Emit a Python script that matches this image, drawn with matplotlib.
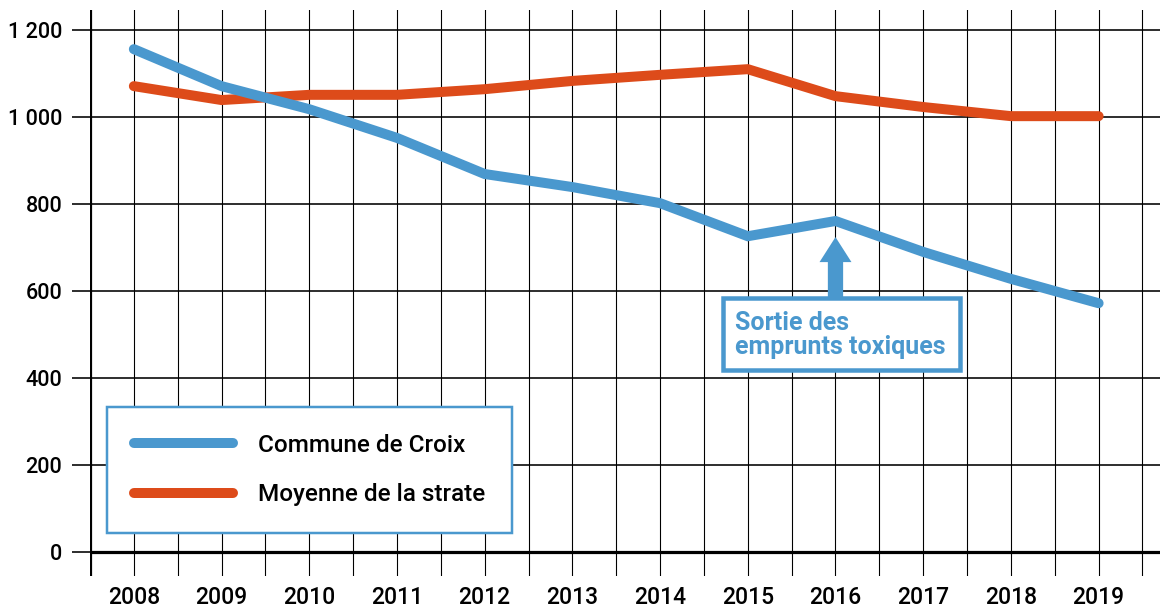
import matplotlib
matplotlib.use("Agg")
import matplotlib.pyplot as plt
from matplotlib.patches import Rectangle, FancyArrowPatch

plt.rcParams['font.family'] = ['Roboto', 'DejaVu Sans']

years = [2008, 2009, 2010, 2011, 2012, 2013, 2014, 2015, 2016, 2017, 2018, 2019]
croix = [1156, 1071, 1018, 952, 869, 839, 802, 726, 761, 690, 628, 572]
strate = [1071, 1039, 1051, 1051, 1064, 1083, 1097, 1110, 1048, 1023, 1002, 1002]
yticks = [0, 200, 400, 600, 800, 1000, 1200]
ytick_labels = ["0", "200", "400", "600", "800", "1 000", "1 200"]
series_names = ["Commune de Croix", "Moyenne de la strate"]
annot_text = "Sortie des\nemprunts toxiques"
annot_year = 2016

BLUE = "#4A98CE"
ORANGE = "#DD4B1A"
PX = 0.72  # points per pixel at dpi 100

fig = plt.figure(figsize=(11.73, 6.10), dpi=100)
W, H = 1173, 610
ax = fig.add_axes([90 / W, (H - 576) / H, (1160 - 90) / W, (576 - 10) / H])
ax.set_xlim(2007.5, 2019.7)
ax.set_ylim(-55, 1246)
for s in ax.spines.values():
    s.set_visible(False)

# grid: vertical lines every half year
half = []
v = years[0] - 0.5
while v <= years[-1] + 0.5 + 1e-9:
    half.append(v)
    v += 0.5
for xv in half[1:]:
    ax.axvline(xv, color="black", lw=1.1 * PX, zorder=1)
# horizontal grid
for yv in yticks[1:]:
    ax.axhline(yv, color="black", lw=1.6 * PX, zorder=1)
ax.axhline(0, color="black", lw=3.2 * PX, zorder=2)
ax.axvline(years[0] - 0.5, color="black", lw=3.2 * PX, zorder=2)

ax.set_yticks(yticks)
ax.set_yticklabels(ytick_labels)
ax.set_xticks(years)
ax.set_xticklabels([str(y) for y in years])
ax.tick_params(axis="y", length=18 * PX, width=1.6 * PX, color="black", pad=7, labelsize=15.5)
ax.tick_params(axis="x", length=0, pad=7, labelsize=16.5)
for t in ax.get_xticklabels() + ax.get_yticklabels():
    t.set_fontweight(500)

l1, = ax.plot(years, croix, color=BLUE, lw=10 * PX, solid_capstyle="round",
              solid_joinstyle="miter", zorder=4, label=series_names[0])
l2, = ax.plot(years, strate, color=ORANGE, lw=10 * PX, solid_capstyle="round",
              solid_joinstyle="miter", zorder=3, label=series_names[1])

leg = ax.legend(handles=[l1, l2], loc="lower left",
                bbox_to_anchor=((107 - 90) / 1070, (576 - 533) / 566),
                frameon=True, fancybox=False,
                prop={"size": 17.5, "weight": 500},
                handlelength=4.1, handletextpad=1.03, labelspacing=1.1,
                borderpad=1.1, borderaxespad=0)
leg.get_frame().set_edgecolor(BLUE)
leg.get_frame().set_linewidth(2.5 * PX)
leg.get_frame().set_facecolor("white")
leg.get_frame().set_alpha(1)
leg.set_zorder(6)

# annotation box
bx0, bx1 = 2014.72, 2017.42
by0, by1 = 418, 584
rect = Rectangle((bx0, by0), bx1 - bx0, by1 - by0, facecolor="white",
                 edgecolor=BLUE, lw=4.5 * PX, zorder=6)
ax.add_patch(rect)
ax.text(bx0 + 0.13, (by0 + by1) / 2 - 2, annot_text, color=BLUE, fontsize=18,
        fontweight="bold", ha="left", va="center", linespacing=1.05, zorder=7)
arrow = FancyArrowPatch((annot_year, by1), (annot_year, 724),
                        arrowstyle="simple,head_length=0.9,head_width=1.15,tail_width=0.55",
                        mutation_scale=20, color=BLUE, lw=0, zorder=6,
                        shrinkA=0, shrinkB=0)
ax.add_patch(arrow)

fig.savefig("out.png", dpi=100, facecolor="white")
